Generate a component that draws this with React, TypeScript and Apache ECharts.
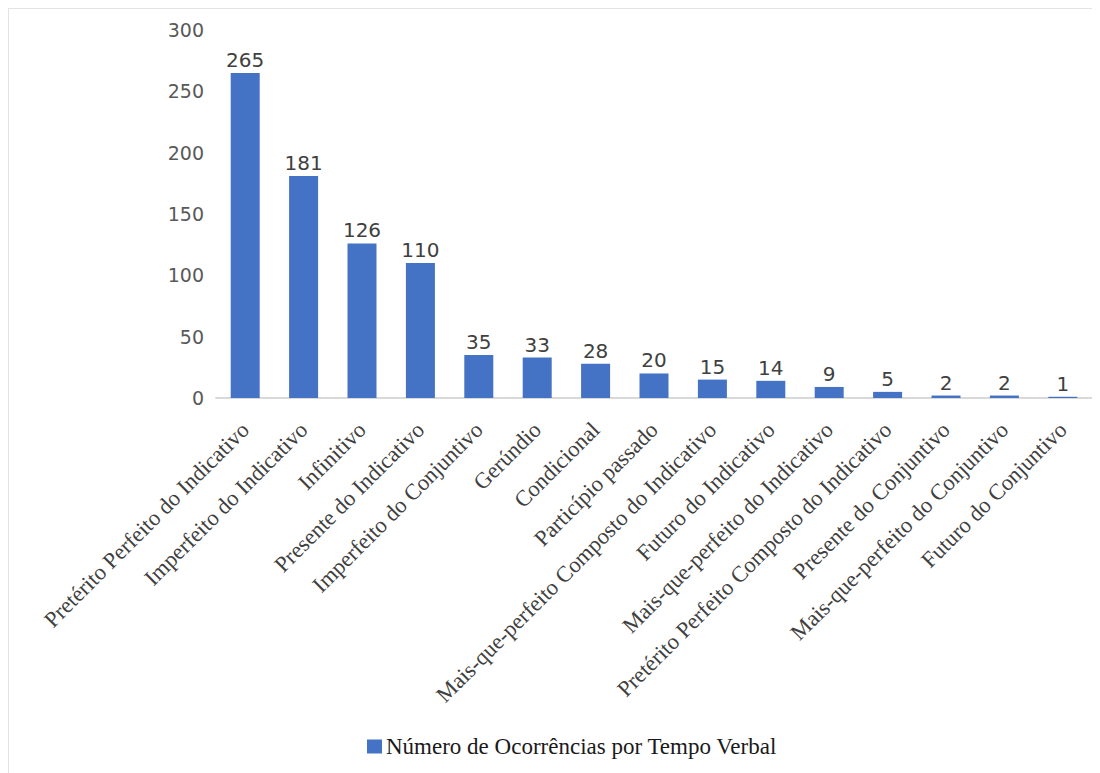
import React, { useEffect, useRef } from "react";
import * as echarts from "echarts";

const categories = [
  "Pretérito Perfeito do Indicativo",
  "Imperfeito do Indicativo",
  "Infinitivo",
  "Presente do Indicativo",
  "Imperfeito do Conjuntivo",
  "Gerúndio",
  "Condicional",
  "Particípio passado",
  "Mais-que-perfeito Composto do Indicativo",
  "Futuro do Indicativo",
  "Mais-que-perfeito do Indicativo",
  "Pretérito Perfeito Composto do Indicativo",
  "Presente do Conjuntivo",
  "Mais-que-perfeito do Conjuntivo",
  "Futuro do Conjuntivo",
];

const occurrences = [265, 181, 126, 110, 35, 33, 28, 20, 15, 14, 9, 5, 2, 2, 1];

const seriesName = "Número de Ocorrências por Tempo Verbal";

const yMin = 0;
const yMax = 300;
const yInterval = 50;

export default function App() {
  const ref = useRef<HTMLDivElement>(null);

  useEffect(() => {
    if (!ref.current) return;
    const chart = echarts.init(ref.current, null, { renderer: "svg" });
    chart.setOption({
      animation: false,
      backgroundColor: "#ffffff",
      grid: { left: 207, right: 8, top: 21, bottom: 375, containLabel: false },
      legend: {
        show: true,
        data: [seriesName],
        left: 353,
        top: 721,
        icon: "rect",
        itemWidth: 15,
        itemHeight: 14,
        textStyle: {
          fontFamily: "Liberation Serif",
          fontSize: 23,
          color: "#1a1a1a",
          padding: [0, 0, 0, -1],
        },
      },
      xAxis: {
        type: "category",
        data: categories,
        axisLine: { show: true, lineStyle: { color: "#d9d9d9", width: 2 } },
        axisTick: { show: false },
        axisLabel: {
          interval: 0,
          rotate: 45,
          margin: 28,
          fontFamily: "Liberation Serif",
          fontSize: 22.5,
          color: "#404040",
        },
      },
      yAxis: {
        type: "value",
        min: yMin,
        max: yMax,
        interval: yInterval,
        axisLine: { show: false },
        axisTick: { show: false },
        splitLine: { show: false },
        axisLabel: {
          margin: 12,
          fontFamily: "DejaVu Sans",
          fontSize: 19,
          color: "#595959",
          padding: [5, 0, 0, 0],
        },
      },
      series: [
        {
          name: seriesName,
          type: "bar",
          data: occurrences,
          barWidth: 29,
          itemStyle: { color: "#4472C4" },
          label: {
            show: true,
            position: "top",
            distance: 3,
            fontFamily: "DejaVu Sans",
            fontSize: 20,
            color: "#404040",
          },
        },
      ],
    });
    return () => chart.dispose();
  }, []);

  return (
    <div
      style={{
        width: 1092,
        height: 765,
        boxSizing: "border-box",
        borderTop: "1px solid #e3e3e3",
        borderLeft: "1px solid #e3e3e3",
        background: "#fff",
      }}
    >
      <div ref={ref} style={{ width: 1091, height: 764 }} />
    </div>
  );
}
